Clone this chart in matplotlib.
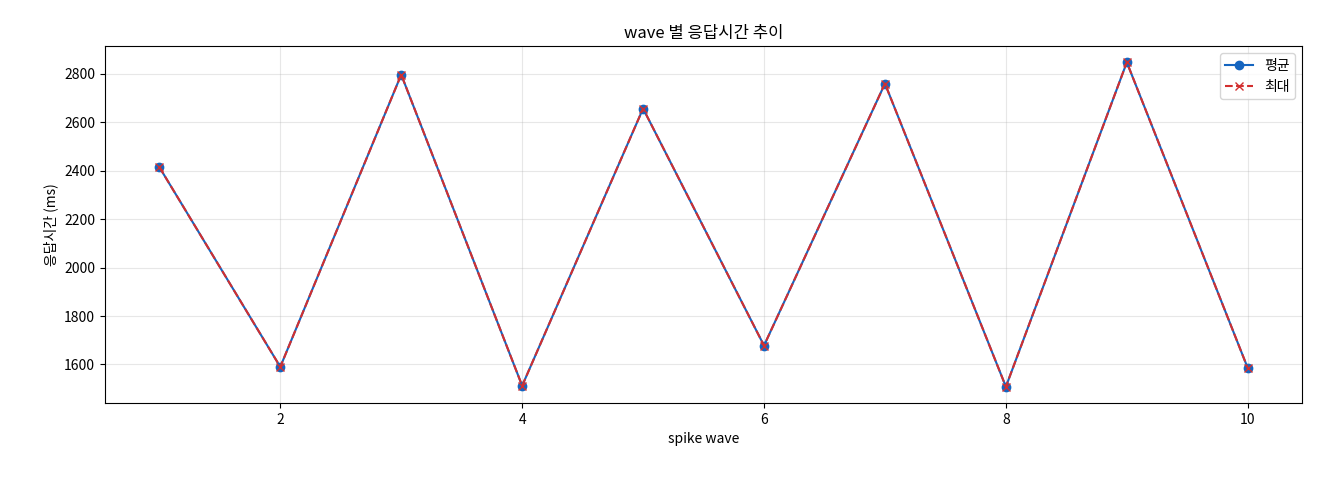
import matplotlib
matplotlib.use("Agg")
import matplotlib.pyplot as plt

plt.rcParams['font.family'] = ['Noto Sans CJK KR', 'DejaVu Sans']

waves = [1, 2, 3, 4, 5, 6, 7, 8, 9, 10]
avg_ms = [2415, 1590, 2797, 1512, 2657, 1678, 2760, 1508, 2848, 1585]
max_ms = [2415, 1590, 2797, 1512, 2657, 1678, 2760, 1508, 2848, 1585]

fig = plt.figure(figsize=(13.2, 4.8), dpi=100)
ax = fig.add_axes([0.0795, 0.16, 0.907, 0.744])
ax.plot(waves, avg_ms, marker='o', color='#1565c0', label='평균', markersize=6)
ax.plot(waves, max_ms, marker='x', linestyle='--', color='#d32f2f', label='최대', markersize=6)
ax.set_ylim(1440, 2915)
ax.set_title('wave 별 응답시간 추이')
ax.set_xlabel('spike wave')
ax.set_ylabel('응답시간 (ms)')
ax.grid(True, alpha=0.3)
ax.legend(loc='upper right')
fig.savefig('out.png', dpi=100)
